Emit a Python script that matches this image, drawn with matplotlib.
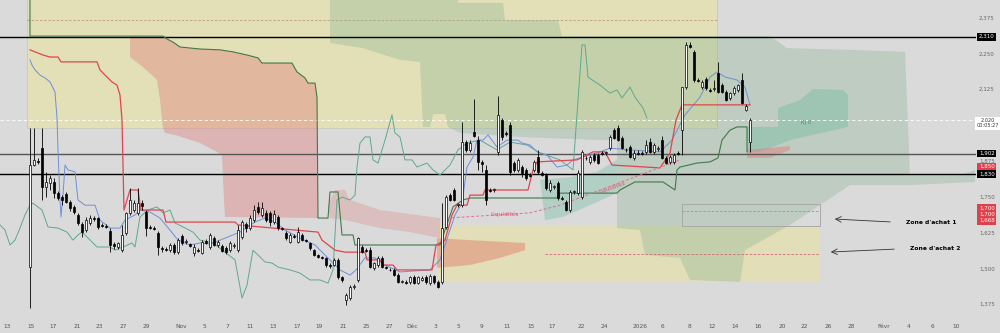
import matplotlib.pyplot as plt
import numpy as np

# candles (one bar = one session slot, price in EUR)
opens = [1.506, 1.862, 1.876, 1.921, 1.785, 1.799, 1.803, 1.764, 1.750, 1.761,
         1.733, 1.716, 1.688, 1.656, 1.635, 1.660, 1.677, 1.677, 1.653, 1.649,
         1.632, 1.586, 1.576, 1.565, 1.625, 1.695, 1.705, 1.695, 1.729, 1.698,
         1.646, 1.642, 1.625, 1.572, 1.569, 1.565, 1.583, 1.558, 1.614, 1.593,
         1.586, 1.555, 1.565, 1.555, 1.597, 1.576, 1.607, 1.583, 1.579, 1.572,
         1.565, 1.579, 1.565, 1.611, 1.656, 1.642, 1.670, 1.716, 1.688, 1.695,
         1.695, 1.663, 1.681, 1.642, 1.625, 1.593, 1.614, 1.593, 1.618, 1.600,
         1.590, 1.565, 1.548, 1.541, 1.538, 1.513, 1.513, 1.531, 1.471, 1.391,
         1.398, 1.436, 1.461, 1.576, 1.565, 1.565, 1.503, 1.513, 1.538, 1.506,
         1.496, 1.496, 1.478, 1.454, 1.454, 1.454, 1.471, 1.450, 1.461, 1.471,
         1.450, 1.475, 1.454, 1.454, 1.646, 1.757, 1.775, 1.722, 1.722, 1.942,
         1.915, 1.977, 1.949, 1.873, 1.845, 1.775, 1.775, 1.908, 2.019, 1.974,
         2.002, 1.869, 1.845, 1.855, 1.845, 1.827, 1.845, 1.890, 1.834, 1.827,
         1.775, 1.785, 1.799, 1.747, 1.733, 1.705, 1.768, 1.764, 1.750, 1.887,
         1.873, 1.897, 1.897, 1.904, 1.904, 1.921, 1.984, 1.991, 1.956, 1.915,
         1.925, 1.887, 1.904, 1.904, 1.908, 1.942, 1.908, 1.918, 1.949, 1.887,
         1.873, 1.873, 1.904, 1.984, 2.134, 2.281, 2.257, 2.159, 2.134, 2.162,
         2.124, 2.127, 2.183, 2.141, 2.117, 2.096, 2.113, 2.124, 2.159, 2.054, 1.942]
highs = [1.991, 1.991, 1.887, 1.991, 1.838, 1.827, 1.817, 1.771, 1.757, 1.768,
         1.740, 1.722, 1.695, 1.663, 1.681, 1.688, 1.684, 1.681, 1.660, 1.656,
         1.642, 1.593, 1.593, 1.653, 1.698, 1.782, 1.740, 1.782, 1.740, 1.705,
         1.653, 1.649, 1.632, 1.579, 1.576, 1.590, 1.590, 1.607, 1.621, 1.604,
         1.590, 1.586, 1.572, 1.600, 1.604, 1.625, 1.614, 1.600, 1.586, 1.579,
         1.597, 1.590, 1.653, 1.670, 1.663, 1.688, 1.722, 1.733, 1.733, 1.705,
         1.702, 1.705, 1.688, 1.646, 1.632, 1.625, 1.621, 1.646, 1.625, 1.604,
         1.593, 1.569, 1.552, 1.545, 1.541, 1.520, 1.538, 1.538, 1.475, 1.415,
         1.443, 1.447, 1.611, 1.583, 1.572, 1.576, 1.524, 1.545, 1.545, 1.510,
         1.503, 1.503, 1.485, 1.461, 1.461, 1.475, 1.478, 1.475, 1.475, 1.478,
         1.482, 1.478, 1.461, 1.729, 1.757, 1.764, 1.782, 1.729, 2.012, 1.949,
         1.949, 2.092, 1.963, 1.880, 1.862, 1.782, 1.782, 2.103, 2.026, 1.981,
         2.012, 1.876, 1.887, 1.862, 1.852, 1.834, 1.880, 1.915, 1.841, 1.834,
         1.810, 1.792, 1.806, 1.754, 1.740, 1.775, 1.775, 1.845, 1.915, 1.894,
         1.897, 1.904, 1.904, 1.911, 1.911, 1.967, 1.991, 2.002, 1.963, 1.921,
         1.932, 1.915, 1.915, 1.911, 1.949, 1.956, 1.939, 1.928, 1.963, 1.894,
         1.897, 1.904, 1.911, 2.134, 2.291, 2.291, 2.264, 2.166, 2.159, 2.169,
         2.131, 2.159, 2.222, 2.148, 2.124, 2.117, 2.138, 2.145, 2.183, 2.075, 2.026]
lows = [1.363, 1.859, 1.866, 1.740, 1.750, 1.775, 1.747, 1.740, 1.722, 1.729,
        1.702, 1.691, 1.653, 1.611, 1.628, 1.653, 1.667, 1.639, 1.646, 1.642,
        1.558, 1.569, 1.569, 1.558, 1.618, 1.688, 1.698, 1.688, 1.705, 1.614,
        1.639, 1.635, 1.548, 1.558, 1.562, 1.558, 1.552, 1.552, 1.583, 1.586,
        1.576, 1.545, 1.558, 1.552, 1.586, 1.569, 1.579, 1.576, 1.558, 1.552,
        1.558, 1.572, 1.558, 1.604, 1.628, 1.635, 1.663, 1.691, 1.681, 1.663,
        1.649, 1.656, 1.635, 1.635, 1.600, 1.590, 1.607, 1.590, 1.597, 1.593,
        1.565, 1.545, 1.538, 1.534, 1.506, 1.503, 1.510, 1.464, 1.454, 1.374,
        1.391, 1.429, 1.454, 1.555, 1.558, 1.503, 1.496, 1.506, 1.503, 1.499,
        1.492, 1.475, 1.450, 1.450, 1.447, 1.447, 1.447, 1.447, 1.457, 1.447,
        1.443, 1.447, 1.433, 1.447, 1.639, 1.736, 1.736, 1.716, 1.716, 1.908,
        1.908, 1.960, 1.845, 1.838, 1.722, 1.768, 1.768, 1.897, 1.949, 1.963,
        1.827, 1.838, 1.838, 1.820, 1.810, 1.820, 1.838, 1.831, 1.824, 1.775,
        1.768, 1.778, 1.740, 1.740, 1.702, 1.698, 1.761, 1.757, 1.743, 1.880,
        1.866, 1.873, 1.866, 1.897, 1.897, 1.915, 1.953, 1.946, 1.918, 1.908,
        1.887, 1.880, 1.897, 1.897, 1.901, 1.904, 1.901, 1.911, 1.883, 1.866,
        1.866, 1.866, 1.897, 1.897, 2.127, 2.270, 2.152, 2.152, 2.127, 2.124,
        2.117, 2.120, 2.113, 2.113, 2.086, 2.089, 2.106, 2.117, 2.075, 2.051, 1.908]
closes = [1.862, 1.880, 1.873, 1.785, 1.803, 1.817, 1.764, 1.747, 1.740, 1.733,
          1.712, 1.698, 1.660, 1.628, 1.670, 1.677, 1.674, 1.646, 1.649, 1.646,
          1.583, 1.579, 1.590, 1.618, 1.695, 1.740, 1.729, 1.729, 1.719, 1.642,
          1.642, 1.639, 1.576, 1.569, 1.565, 1.583, 1.558, 1.600, 1.590, 1.597,
          1.579, 1.576, 1.563, 1.593, 1.590, 1.618, 1.583, 1.593, 1.562, 1.558,
          1.590, 1.583, 1.635, 1.663, 1.642, 1.677, 1.705, 1.698, 1.712, 1.670,
          1.663, 1.691, 1.642, 1.639, 1.607, 1.618, 1.611, 1.628, 1.600, 1.597,
          1.572, 1.548, 1.541, 1.538, 1.513, 1.510, 1.531, 1.471, 1.461, 1.408,
          1.436, 1.440, 1.607, 1.558, 1.563, 1.506, 1.520, 1.538, 1.506, 1.503,
          1.494, 1.478, 1.454, 1.457, 1.450, 1.471, 1.450, 1.471, 1.468, 1.454,
          1.475, 1.454, 1.436, 1.642, 1.750, 1.740, 1.740, 1.726, 1.942, 1.915,
          1.939, 1.963, 1.873, 1.866, 1.740, 1.773, 1.777, 2.037, 1.960, 1.970,
          1.838, 1.845, 1.880, 1.834, 1.817, 1.824, 1.873, 1.838, 1.827, 1.782,
          1.799, 1.789, 1.747, 1.743, 1.705, 1.768, 1.771, 1.834, 1.908, 1.885,
          1.890, 1.880, 1.869, 1.902, 1.906, 1.960, 1.956, 1.949, 1.921, 1.913,
          1.890, 1.904, 1.902, 1.901, 1.932, 1.908, 1.932, 1.921, 1.887, 1.869,
          1.890, 1.897, 1.901, 2.134, 2.281, 2.274, 2.159, 2.155, 2.152, 2.131,
          2.120, 2.131, 2.117, 2.117, 2.089, 2.113, 2.131, 2.141, 2.078, 2.068, 2.019]

# indicator lines: (bar, price) vertices
red_line = [(0, 2.264), (3.25, 2.246), (5, 2.239), (7, 2.239), (7.75, 2.222), (16.75, 2.222),
            (17.5, 2.194), (18.75, 2.176), (20.5, 2.152), (21.75, 2.141), (22.5, 2.106), (23, 2.019),
            (23.5, 1.705), (24.25, 1.740), (25, 1.775), (27, 1.775), (27.75, 1.705), (33.25, 1.705),
            (34, 1.663), (51.25, 1.663), (52, 1.653), (72, 1.628), (73, 1.600), (76.25, 1.565),
            (78.75, 1.558), (83.75, 1.558), (84.25, 1.531), (87.5, 1.531), (88.25, 1.513),
            (90.75, 1.513), (91.75, 1.496), (100.5, 1.496), (101.5, 1.583), (103.75, 1.600),
            (105.5, 1.688), (106.75, 1.722), (109.25, 1.722), (110, 1.757), (113.25, 1.757),
            (113.75, 1.775), (124.5, 1.775), (125.75, 1.845), (126.75, 1.873), (136.75, 1.880),
            (140.75, 1.908), (143.75, 1.908), (145.5, 1.862), (157.5, 1.852), (160, 1.904),
            (161.5, 2.019), (163, 2.072), (180, 2.072)]
blue_line = [(0, 2.229), (0.5, 2.211), (1.25, 2.194), (2.5, 2.176), (3.75, 2.166), (5, 2.152),
             (6.25, 2.117), (6.75, 2.026), (7, 1.915), (7.5, 1.740), (7.75, 1.681), (8.25, 1.757),
             (8.75, 1.862), (9.5, 1.845), (11.25, 1.838), (12, 1.740), (13.75, 1.722), (16.25, 1.722),
             (17.5, 1.670), (20, 1.642), (22.5, 1.642), (23.75, 1.670), (26.25, 1.688), (27.5, 1.705),
             (30, 1.698), (32.5, 1.677), (35, 1.635), (37, 1.600), (40, 1.583), (42.5, 1.590),
             (45, 1.586), (47.5, 1.600), (52.5, 1.628), (56.25, 1.663), (58.75, 1.677), (61.25, 1.663),
             (63.75, 1.635), (67.5, 1.607), (71.25, 1.583), (73.75, 1.548), (77.5, 1.496), (80, 1.478),
             (81.5, 1.496), (83.75, 1.538), (86.25, 1.538), (88.75, 1.513), (92.5, 1.489), (100, 1.496),
             (102.5, 1.531), (106.25, 1.688), (108, 1.729), (109.25, 1.855), (110.75, 1.890),
             (111.75, 1.949), (113.25, 1.949), (114.5, 1.967), (116.75, 1.925), (119.25, 1.949),
             (122, 1.949), (123, 1.939), (125, 1.932), (126.75, 1.908), (129.25, 1.897),
             (131.75, 1.855), (134.25, 1.862), (135.75, 1.880), (138.25, 1.890), (141.75, 1.904),
             (145, 1.921), (150, 1.915), (157.5, 1.908), (160.5, 1.949), (163.75, 2.037),
             (167.5, 2.099), (170, 2.169), (171.75, 2.187), (173.75, 2.169), (176.75, 2.159),
             (178.75, 2.134), (180, 2.072)]
span_line = [(0, 2.438), (0, 2.312), (33.25, 2.312), (34.25, 2.302), (35.75, 2.291), (37.5, 2.274),
             (42.5, 2.267), (47.5, 2.264), (50.75, 2.257), (54.25, 2.246), (57, 2.236), (58, 2.218),
             (65.5, 2.218), (66.75, 2.187), (68.75, 2.166), (69.5, 2.148), (71.25, 2.148),
             (71.75, 2.099), (72, 1.677), (74.5, 1.677), (75, 1.768), (77, 1.768), (78, 1.618),
             (80.75, 1.618), (81.25, 1.583), (102.5, 1.583), (103.75, 1.635), (105.75, 1.716),
             (108.25, 1.740), (110, 1.747), (131.75, 1.747), (132.5, 1.764), (146.75, 1.764),
             (147.5, 1.775), (151.25, 1.803), (158.25, 1.803), (161.25, 1.775), (161.75, 1.845),
             (162.5, 1.855), (166.75, 1.869), (170, 1.873), (172, 1.887), (173, 1.949), (175, 1.984),
             (176.75, 1.995), (179.25, 1.995), (179.25, 1.908)]
lagging_line = [(-7.5, 1.653), (-6.25, 1.635), (-5, 1.583), (-3.75, 1.600), (-2.5, 1.642),
                (-1.25, 1.688), (0, 1.722), (0.75, 1.729), (3, 1.705), (4.5, 1.646), (7, 1.642),
                (9.25, 1.628), (10.75, 1.600), (12, 1.618), (13, 1.628), (14.25, 1.611), (16.75, 1.576),
                (20, 1.576), (21.25, 1.565), (23.25, 1.576), (25.5, 1.590), (26.25, 1.576),
                (27.5, 1.681), (29.5, 1.705), (31.75, 1.716), (33.25, 1.695), (35, 1.705),
                (36.25, 1.660), (38.25, 1.646), (40.75, 1.628), (42.5, 1.600), (45.75, 1.590),
                (48.75, 1.558), (51.25, 1.531), (53, 1.398), (54.25, 1.443), (55.75, 1.565),
                (57.5, 1.541), (58.75, 1.524), (60.5, 1.520), (62, 1.506), (65, 1.496), (67.5, 1.485),
                (70, 1.461), (72.5, 1.461), (74.5, 1.450), (75.75, 1.496), (76.75, 1.740), (78, 1.750),
                (80, 1.740), (81.25, 1.757), (81.75, 1.855), (82.5, 1.939), (83.75, 1.960), (85, 1.960),
                (85.75, 1.880), (87, 1.869), (88.75, 1.949), (90.5, 2.037), (91.25, 1.974),
                (92.5, 1.960), (93.75, 1.880), (95.5, 1.880), (96.75, 1.855), (99.25, 1.869),
                (100.75, 1.845), (102.5, 1.827), (105, 1.862), (107, 1.915), (109.25, 1.939),
                (112.5, 1.949), (116.75, 1.915), (120, 1.942), (124.25, 1.932), (127.5, 1.904),
                (132.5, 1.880), (135.75, 1.845), (138, 2.281), (138.75, 2.281), (139.5, 2.169),
                (142.5, 2.141), (145, 2.113), (146.75, 2.124), (148, 2.096), (150, 2.134),
                (151.25, 2.099), (153.25, 2.061), (154.25, 2.026)]

# clouds
red_cloud = [(25, 2.312), (33.25, 2.312), (34.25, 2.302), (35.75, 2.291), (37.5, 2.274), (42.5, 2.267),
             (47.5, 2.264), (50.75, 2.257), (54.25, 2.246), (57, 2.236), (58, 2.218), (65.5, 2.218),
             (66.75, 2.187), (68.75, 2.166), (69.5, 2.148), (71.25, 2.148), (71.75, 2.099), (72, 1.677),
             (48.75, 1.681), (48.5, 1.740), (48, 1.897), (45.75, 1.915), (42.5, 1.939), (36.25, 1.967),
             (33.75, 1.974), (33.25, 1.991), (32.5, 2.089), (31.75, 2.159), (28.25, 2.204), (25, 2.239)]
green_cloud = [(75, 2.438), (107, 2.438), (107, 2.428), (118.25, 2.428), (118.75, 2.368), (132, 2.368),
               (133, 2.312), (185, 2.312), (187.5, 2.288), (189.25, 2.270), (205, 2.264), (218.75, 2.257),
               (220, 1.827), (232.5, 1.827), (236.25, 1.845), (236.25, 1.803), (220, 1.792), (205, 1.792),
               (190, 1.653), (178.75, 1.565), (177.5, 1.454), (165, 1.461), (162.5, 1.538),
               (153.75, 1.548), (152.5, 1.635), (146.75, 1.642), (146.75, 1.949), (142.5, 1.949),
               (122.5, 1.960), (107.5, 1.974), (104.5, 1.995), (103.75, 2.040), (100.75, 2.040),
               (100, 1.995), (98.25, 1.995), (97.5, 2.222), (92.5, 2.229), (83.25, 2.270), (75, 2.288)]
pink_cloud = [(74.5, 1.722), (76.25, 1.775), (78.75, 1.775), (80, 1.740), (87.5, 1.705), (95, 1.691),
              (102.5, 1.677), (102.5, 1.607), (95, 1.628), (87.5, 1.642), (78.75, 1.670), (75, 1.677)]
salmon_cloud = [(101.75, 1.607), (110, 1.600), (123.75, 1.590), (123.75, 1.565), (117.5, 1.538),
                (110, 1.513), (101.75, 1.503)]
teal_cloud = [(127.5, 1.810), (135, 1.820), (141.75, 1.838), (146.75, 1.880), (146.75, 1.764),
              (140, 1.722), (133.25, 1.681), (128.75, 1.670)]
kj_cloud = [(179.25, 1.995), (187, 1.995), (187, 2.061), (192.5, 2.089), (195.75, 2.127), (203.25, 2.124),
            (204.5, 2.106), (204.5, 1.995), (190, 1.949), (182.5, 1.908), (179.25, 1.908)]
red_twist = [(179.25, 1.915), (190, 1.928), (190, 1.915), (185, 1.887), (179.25, 1.887)]
liquidity = [(104.25, 1.677), (125, 1.695), (132.5, 1.722), (162.5, 1.880)]

levels = [2.310, 1.902, 1.830]
last_price = 2.020
tick_prices = [2.375, 2.250, 2.125, 1.875, 1.750, 1.625, 1.500, 1.375]
date_pos = [-5.75, 0.25, 5.75, 11.75, 17.25, 23.25, 29, 37.75, 43.5, 49.25, 55, 60.75, 66.75, 72.25,
            78.25, 84, 89.75, 95.5, 101.25, 107, 112.75, 119.25, 125.25, 130.5, 137.75, 143.5, 152.5,
            158, 164.75, 170.5, 176.25, 182, 188, 193.5, 199.5, 205.25, 213.5, 219.75, 225.5, 231.5]
date_labels = ['13', '15', '17', '21', '23', '27', '29', 'Nov', '5', '7', '11', '13', '17', '19',
               '21', '25', '27', 'Déc', '3', '5', '9', '11', '15', '17', '22', '24', '2026',
               '6', '8', '12', '14', '16', '20', '22', '26', '28', 'Févr', '4', '6', '10']

fig = plt.figure(figsize=(10, 3.33), dpi=100, facecolor='#dadada')
ax = fig.add_axes([0, 15 / 333, 0.976, 318 / 333])
ax.set_facecolor('#dadada')
ax.set_xlim(-7.5, 236.5)
ax.set_ylim(1.3282, 2.438)
for s in ax.spines.values():
    s.set_visible(False)

# rectangles first
ax.add_patch(plt.Rectangle((-0.75, 1.991), 172.5, 0.5, fc='#e3dfb7', ec='#c8c8c0', lw=0.6, zorder=1))
ax.add_patch(plt.Rectangle((101.75, 1.454), 95.75, 0.195, fc='#e4dfb4', ec='none', alpha=0.9, zorder=1))
ax.add_patch(plt.Rectangle((163, 1.649), 34.5, 0.077, fc='none', ec='#a8a8a8', lw=0.7, zorder=4))
ax.plot([-0.75, 171.75], [2.368, 2.368], ls=(0, (3, 2)), color='#c09a80', lw=0.6, zorder=2)
ax.plot([163, 197.5], [1.700, 1.700], ls=(0, (3, 2)), color='#d07a90', lw=0.6, zorder=4)
ax.plot([128.75, 197.5], [1.552, 1.552], ls=(0, (3, 2)), color='#d06a78', lw=0.6, zorder=4)

def poly(pts, color, alpha, z=2):
    xs, ys = zip(*pts)
    ax.fill(xs, ys, color=color, alpha=alpha, lw=0, zorder=z)

poly(red_cloud, '#e06d6d', 0.35)
poly(green_cloud, '#8ab494', 0.35)
poly(pink_cloud, '#e07f7f', 0.3)
poly(salmon_cloud, '#e07a66', 0.45)
poly(teal_cloud, '#7fc2ad', 0.45)
poly(kj_cloud, '#7fbfa8', 0.5)
poly(red_twist, '#e07f7f', 0.5)

# horizontal levels
ax.axhline(levels[0], color='black', lw=1.0, zorder=3)
ax.axhline(levels[1], color='#555555', lw=1.0, zorder=3)
ax.axhline(levels[2], color='black', lw=1.0, zorder=3)
ax.axhline(last_price, color='white', lw=0.6, ls=(0, (4, 3)), zorder=3)

def line(pts, color, lw):
    xs, ys = zip(*pts)
    ax.plot(xs, ys, color=color, lw=lw, zorder=5)

line(lagging_line, '#5fa88f', 0.7)
line(span_line, '#3f7a4a', 0.8)
line(blue_line, '#6f8fd8', 0.7)
line(red_line, '#e0454f', 0.9)

xs, ys = zip(*liquidity)
ax.plot(xs, ys, color='#e0708a', lw=0.7, ls=(0, (3, 2)), zorder=5)
ax.text(118.75, 1.689, 'Liquidités', fontsize=4.2, color='#d85a70', ha='center', va='center', zorder=6)
ax.text(145.5, 1.785, 'Liquidités', fontsize=4.2, color='#d85a70', ha='center', va='center',
        rotation=20, zorder=6)
ax.text(194, 2.009, 'Kj 0', fontsize=4, color='#3f8a78', ha='center', va='center', zorder=6)

# candles
x = np.arange(len(opens))
o = np.array(opens); c = np.array(closes); h = np.array(highs); l = np.array(lows)
up = c >= o
ax.vlines(x, l, h, color='black', lw=0.6, zorder=7)
ax.bar(x[up], np.maximum(c[up] - o[up], 0.002), bottom=o[up], width=0.62,
       color='white', edgecolor='black', lw=0.5, zorder=8)
ax.bar(x[~up], np.maximum(o[~up] - c[~up], 0.002), bottom=c[~up], width=0.62,
       color='black', edgecolor='black', lw=0.5, zorder=8)

# buy zone notes
ax.annotate('', xy=(200.5, 1.674), xytext=(215.75, 1.663),
            arrowprops=dict(arrowstyle='->', color='#333333', lw=0.6))
ax.annotate('', xy=(199.5, 1.558), xytext=(216.75, 1.569),
            arrowprops=dict(arrowstyle='->', color='#333333', lw=0.6))
ax.text(219, 1.663, "Zone d'achat 1", fontsize=4.3, color='black', va='center', fontweight='bold')
ax.text(220, 1.572, "Zone d'achat 2", fontsize=4.3, color='black', va='center', fontweight='bold')

# date axis
ax.set_xticks(date_pos, date_labels)
ax.tick_params(axis='x', length=0, labelsize=4.2, labelcolor='#555555', pad=4)
ax.set_yticks([])

# price scale on the right
tr = ax.get_yaxis_transform()
for p in tick_prices:
    ax.text(1.011, p, f'{p:.3f}'.replace('.', ','), transform=tr, fontsize=4, color='#666666',
            ha='center', va='center', clip_on=False)
boxes = [(2.310, '2,310', 'black', 'white'), (1.902, '1,902', 'black', 'white'),
         (1.857, '1,850', '#e0404c', 'white'), (1.830, '1,830', 'black', 'white'),
         (1.712, '1,700', '#e0404c', 'white'), (1.690, '1,700', '#e0404c', 'white'),
         (1.668, '1,668', '#e0404c', 'white')]
for p, txt, bg, fg in boxes:
    ax.text(1.011, p, txt, transform=tr, fontsize=4, color=fg, ha='center', va='center', clip_on=False,
            bbox=dict(boxstyle='square,pad=0.25', fc=bg, ec='none'))
ax.text(1.012, last_price + 0.006, '2,020\n00:05:27', transform=tr, fontsize=3.6, color='#333333',
        ha='center', va='top', linespacing=1.0, clip_on=False,
        bbox=dict(boxstyle='square,pad=0.3', fc='white', ec='none'))

fig.savefig('out.png', dpi=100, facecolor=fig.get_facecolor())
